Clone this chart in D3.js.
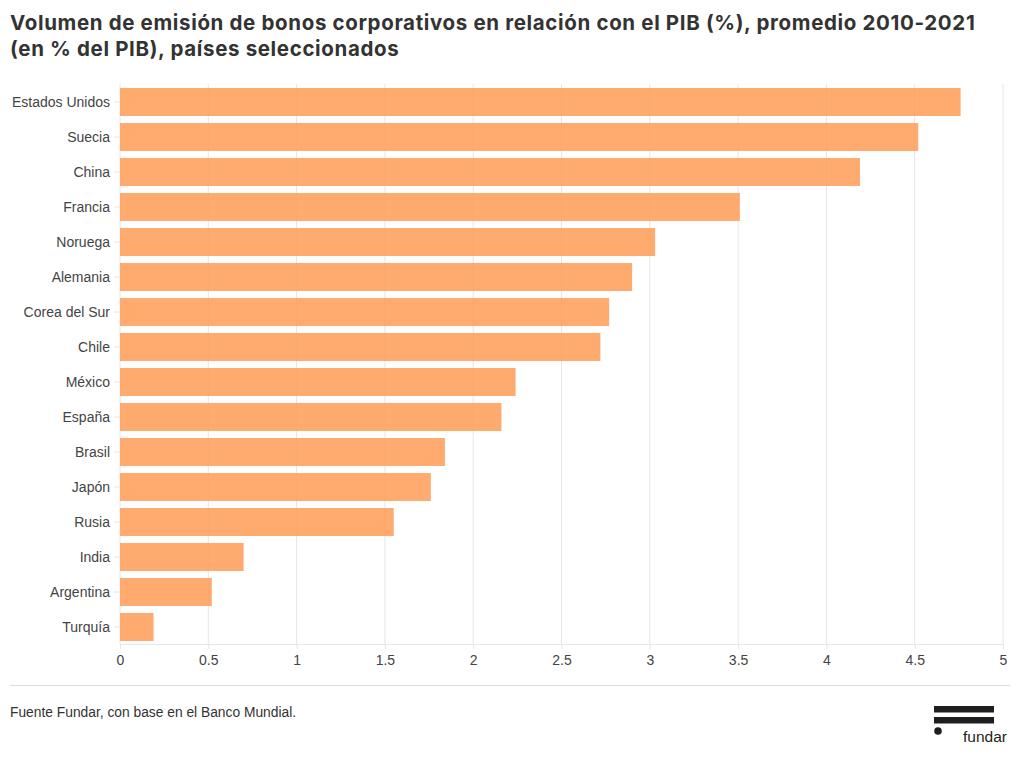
<!DOCTYPE html>
<html><head><meta charset="utf-8">
<script src="https://cdn.jsdelivr.net/npm/d3@7"></script>
<style>
body{margin:0;background:#fff;font-family:"Liberation Sans",Arial,sans-serif;}
svg{display:block;}
</style></head>
<body>
<svg id="c" width="1020" height="757"></svg>
<script>
const categories = ["Estados Unidos","Suecia","China","Francia","Noruega","Alemania","Corea del Sur","Chile","México","España","Brasil","Japón","Rusia","India","Argentina","Turquía"];
const values = [4.76,4.52,4.19,3.51,3.03,2.90,2.77,2.72,2.24,2.16,1.84,1.76,1.55,0.70,0.52,0.19];
const xTicks = [0,0.5,1,1.5,2,2.5,3,3.5,4,4.5,5];
const titleLines = ["Volumen de emisión de bonos corporativos en relación con el PIB (%), promedio 2010-2021","(en % del PIB), países seleccionados"];
const sourceText = "Fuente Fundar, con base en el Banco Mundial.";

const svg = d3.select("#c");
const x = d3.scaleLinear().domain([0,5]).range([120,1003]);
const y = d3.scaleBand().domain(categories).range([84.5,644.5]).paddingInner(0.2).paddingOuter(0.1);

// title
svg.append("g").selectAll("text").data(titleLines).join("text")
  .attr("x",10).attr("y",(d,i)=>30+i*26)
  .attr("font-family","Inter, 'Liberation Sans', sans-serif")
  .attr("font-weight",700).attr("font-size",20.5).attr("fill","#333")
  .attr("letter-spacing","0.65")
  .text(d=>d);

// gridlines
svg.append("g").selectAll("line").data(xTicks).join("line")
  .attr("x1",d=>x(d)).attr("x2",d=>x(d)).attr("y1",84).attr("y2",644)
  .attr("stroke","#e6e6e6").attr("stroke-width",1);

// bars
svg.append("g").selectAll("rect").data(categories).join("rect")
  .attr("x",x(0)).attr("y",d=>y(d)).attr("height",y.bandwidth())
  .attr("width",(d,i)=>x(values[i])-x(0))
  .attr("fill","#ff9b55").attr("fill-opacity",0.85);

// x axis
const xa = svg.append("g").attr("transform","translate(0,644)")
  .call(d3.axisBottom(x).tickValues(xTicks).tickSize(5).tickPadding(6).tickFormat(d3.format("~g")));
xa.select(".domain").attr("stroke","#e6e6e6");
xa.selectAll(".tick line").attr("stroke","#e6e6e6");
xa.selectAll(".tick text").attr("font-family","'Liberation Sans',Arial,sans-serif").attr("font-size",14).attr("fill","#444");

// y axis
const ya = svg.append("g").attr("transform","translate(120,0)")
  .call(d3.axisLeft(y).tickSize(6).tickPadding(4));
ya.select(".domain").remove();
ya.selectAll(".tick line").attr("stroke","#e6e6e6");
ya.selectAll(".tick text").attr("font-family","'Liberation Sans',Arial,sans-serif").attr("font-size",14).attr("fill","#444").attr("dy","0.38em");

// footer line
svg.append("line").attr("x1",10).attr("x2",1010).attr("y1",685.5).attr("y2",685.5).attr("stroke","#dddddd");
svg.append("text").attr("x",10).attr("y",717).attr("font-size",13.8).attr("fill","#333")
  .attr("font-family","'Liberation Sans',Arial,sans-serif").text(sourceText);

// logo
const lg = svg.append("g");
lg.append("rect").attr("x",934).attr("y",706).attr("width",60).attr("height",6.5).attr("fill","#1e1e1e");
lg.append("rect").attr("x",934).attr("y",717).attr("width",60).attr("height",6.5).attr("fill","#1e1e1e");
lg.append("circle").attr("cx",938).attr("cy",731).attr("r",3.8).attr("fill","#1e1e1e");
lg.append("text").attr("x",963).attr("y",742).attr("font-size",15.5).attr("fill","#1e1e1e")
  .attr("font-family","'Liberation Sans',Arial,sans-serif").text("fundar");
</script>
</body></html>
